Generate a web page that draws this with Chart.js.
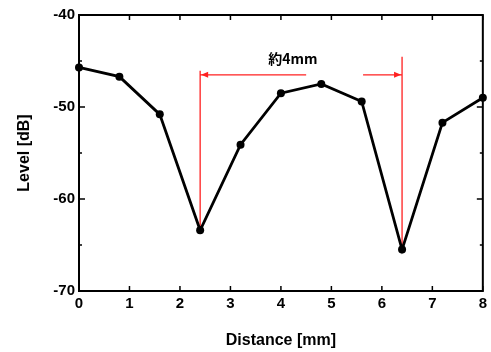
<!DOCTYPE html>
<html>
<head>
<meta charset="utf-8">
<script src="https://cdn.jsdelivr.net/npm/chart.js@4.4.1/dist/chart.umd.min.js"></script>
<style>
  html, body { margin: 0; padding: 0; background: #fff; }
  #wrap { width: 491px; height: 352px; }
</style>
</head>
<body>
<div id="wrap"><canvas id="LevelChart" width="491" height="352"></canvas></div>
<script>
(function () {
  "use strict";

  // Data
  const distances = [0, 0.8, 1.6, 2.4, 3.2, 4.0, 4.8, 5.6, 6.4, 7.2, 8.0];
  const levels = [-45.7, -46.7, -50.8, -63.4, -54.1, -48.5, -47.5, -49.4, -65.5, -51.7, -49.0];
  const xTicks = [0, 1, 2, 3, 4, 5, 6, 7, 8];
  const yTicks = [-70, -60, -50, -40];
  const yMinor = [-65, -55, -45];
  const spanLabel = '約4mm';
  const spanFrom = 2.4;
  const spanTo = 6.4;

  const tickFont = { family: 'Liberation Sans, Arial, sans-serif', size: 15, weight: 'bold' };
  const titleFont = { family: 'Liberation Sans, Arial, sans-serif', size: 16, weight: 'bold' };

  // frame, inward ticks and the red span annotation
  const framePlugin = {
    id: 'frame',
    beforeDatasetsDraw(chart) {
      const ctx = chart.ctx;
      const xs = chart.scales.x, ys = chart.scales.y;
      const x1 = xs.getPixelForValue(spanFrom);
      const x2 = xs.getPixelForValue(spanTo);
      const y1 = ys.getPixelForValue(levels[distances.indexOf(spanFrom)]);
      const y2 = ys.getPixelForValue(levels[distances.indexOf(spanTo)]);
      const yArrow = ys.getPixelForValue(-46.5);
      ctx.save();
      ctx.strokeStyle = '#ff2020';
      ctx.fillStyle = '#ff2020';
      ctx.lineWidth = 1.3;
      ctx.beginPath();
      ctx.moveTo(x1, yArrow - 4); ctx.lineTo(x1, y1);
      ctx.moveTo(x2, yArrow - 18); ctx.lineTo(x2, y2);
      ctx.moveTo(x1, yArrow); ctx.lineTo(x1 + 106, yArrow);
      ctx.moveTo(x2 - 39, yArrow); ctx.lineTo(x2, yArrow);
      ctx.stroke();
      ctx.beginPath();
      ctx.moveTo(x1 + 1, yArrow); ctx.lineTo(x1 + 8, yArrow - 3); ctx.lineTo(x1 + 8, yArrow + 3); ctx.closePath();
      ctx.moveTo(x2 - 1, yArrow); ctx.lineTo(x2 - 8, yArrow - 3); ctx.lineTo(x2 - 8, yArrow + 3); ctx.closePath();
      ctx.fill();
      ctx.fillStyle = '#000';
      ctx.font = 'bold 14px "Noto Sans CJK JP", "Liberation Sans", sans-serif';
      ctx.textAlign = 'left';
      ctx.textBaseline = 'middle';
      ctx.fillText(spanLabel, x1 + 68, yArrow - 16);
      ctx.restore();
    },
    afterDraw(chart) {
      const ctx = chart.ctx;
      const a = chart.chartArea;
      const xs = chart.scales.x, ys = chart.scales.y;
      ctx.save();
      ctx.strokeStyle = '#000';
      ctx.lineWidth = 2;
      ctx.strokeRect(a.left, a.top, a.right - a.left, a.bottom - a.top);
      ctx.lineWidth = 1.5;
      ctx.beginPath();
      xTicks.forEach(function (v) {
        const px = xs.getPixelForValue(v);
        ctx.moveTo(px, a.bottom); ctx.lineTo(px, a.bottom - 5);
        ctx.moveTo(px, a.top); ctx.lineTo(px, a.top + 5);
      });
      yTicks.forEach(function (v) {
        const py = ys.getPixelForValue(v);
        ctx.moveTo(a.left, py); ctx.lineTo(a.left + 6, py);
        ctx.moveTo(a.right, py); ctx.lineTo(a.right - 6, py);
      });
      yMinor.forEach(function (v) {
        const py = ys.getPixelForValue(v);
        ctx.moveTo(a.left, py); ctx.lineTo(a.left + 3, py);
        ctx.moveTo(a.right, py); ctx.lineTo(a.right - 3, py);
      });
      ctx.stroke();
      ctx.restore();
    }
  };

  const ctx = document.getElementById('LevelChart').getContext('2d');
  new Chart(ctx, {
    type: 'line',
    data: {
      datasets: [{
        data: distances.map(function (d, i) { return { x: d, y: levels[i] }; }),
        borderColor: '#000',
        backgroundColor: '#000',
        borderWidth: 2.8,
        tension: 0,
        clip: false,
        pointRadius: 4,
        pointBackgroundColor: '#000',
        pointBorderWidth: 0
      }]
    },
    options: {
      responsive: false,
      animation: false,
      layout: { padding: { top: 15, right: 8, left: 0, bottom: 0 } },
      plugins: { legend: { display: false }, tooltip: { enabled: false } },
      scales: {
        x: {
          type: 'linear',
          min: 0, max: 8,
          afterBuildTicks(scale) { scale.ticks = xTicks.map(function (v) { return { value: v }; }); },
          afterFit(scale) { scale.height = 61; },
          grid: { display: false, drawTicks: false },
          border: { display: false },
          ticks: { color: '#000', font: tickFont, padding: 4, maxRotation: 0 },
          title: { display: true, text: 'Distance [mm]', color: '#000', font: titleFont, padding: { top: 3, bottom: 2 } }
        },
        y: {
          type: 'linear',
          min: -70, max: -40,
          afterBuildTicks(scale) { scale.ticks = yTicks.map(function (v) { return { value: v }; }); },
          afterFit(scale) { scale.width = 79; },
          grid: { display: false, drawTicks: false },
          border: { display: false },
          ticks: { color: '#000', font: tickFont, padding: 4 },
          title: { display: true, text: 'Level [dB]', color: '#000', font: titleFont, padding: { top: 15, bottom: 15 } }
        }
      }
    },
    plugins: [framePlugin]
  });
})();
</script>
</body>
</html>
